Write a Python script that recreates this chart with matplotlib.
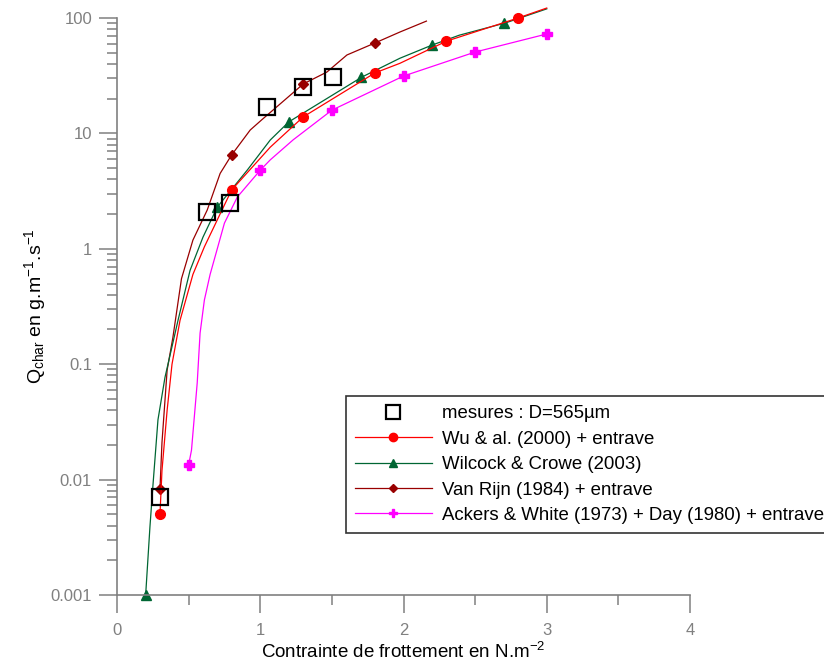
import matplotlib
matplotlib.use('Agg')
import matplotlib.pyplot as plt
from matplotlib.lines import Line2D
from matplotlib.ticker import FixedLocator, LogLocator, NullFormatter, MultipleLocator

plt.rcParams['font.family'] = ['Liberation Sans', 'DejaVu Sans']
plt.rcParams['mathtext.default'] = 'regular'

# measurements
mes_x = [0.30, 0.63, 0.79, 1.05, 1.30, 1.51]
mes_y = [0.007, 2.1, 2.5, 17, 25, 31]

# Wu & al. (2000) + entrave
wu_x = [0.30, 0.314, 0.35, 0.384, 0.44, 0.53, 0.61, 0.70, 0.80, 1.07, 1.30, 1.80, 1.975, 2.30, 2.80, 3.00]
wu_y = [0.005, 0.012, 0.040, 0.10, 0.24, 0.60, 1.04, 1.78, 3.23, 7.6, 13.9, 33.4, 40.5, 63, 100, 122]
wu_mx = [0.3, 0.8, 1.3, 1.8, 2.3, 2.8]
wu_my = [0.005, 3.23, 13.9, 33.4, 63, 100]

# Wilcock & Crowe (2003)
wc_x = [0.20, 0.23, 0.25, 0.286, 0.335, 0.426, 0.51, 0.60, 0.70, 0.91, 1.07, 1.20, 1.71, 1.975, 2.20, 2.39, 2.71, 3.00]
wc_y = [0.001, 0.0039, 0.0086, 0.033, 0.077, 0.24, 0.65, 1.26, 2.30, 4.82, 8.77, 12.6, 30.8, 44.8, 58.3, 71, 90.5, 120]
wc_mx = [0.2, 0.7, 1.2, 1.7, 2.2, 2.7]
wc_my = [0.001, 2.30, 12.6, 30.8, 58.3, 90.5]

# Van Rijn (1984) + entrave
vr_x = [0.30, 0.314, 0.35, 0.39, 0.45, 0.53, 0.63, 0.72, 0.80, 0.93, 1.01, 1.30, 1.465, 1.605, 1.80, 1.975, 2.16]
vr_y = [0.0083, 0.021, 0.089, 0.17, 0.55, 1.19, 2.17, 4.5, 6.5, 10.7, 13.1, 26.8, 34, 47.8, 60.7, 75.6, 94]
vr_mx = [0.3, 0.8, 1.3, 1.8]
vr_my = [0.0083, 6.5, 26.8, 60.7]

# Ackers & White (1973) + Day (1980) + entrave
aw_x = [0.50, 0.52, 0.56, 0.58, 0.61, 0.65, 0.70, 0.75, 0.84, 1.00, 1.07, 1.23, 1.50, 2.00, 2.50, 3.00]
aw_y = [0.0134, 0.018, 0.069, 0.186, 0.36, 0.6, 1.0, 1.67, 2.81, 4.8, 5.9, 8.8, 15.9, 31.4, 50.7, 72.7]
aw_mx = [0.5, 1.0, 1.5, 2.0, 2.5, 3.0]
aw_my = [0.0134, 4.8, 15.9, 31.4, 50.7, 72.7]

labels = ['mesures : D=565µm', 'Wu & al. (2000) + entrave', 'Wilcock & Crowe (2003)',
          'Van Rijn (1984) + entrave', 'Ackers & White (1973) + Day (1980) + entrave']

c_wu = '#ff0000'
c_wc = '#006633'
c_vr = '#990000'
c_aw = '#ff00ff'
grey = '#808080'

fig = plt.figure(figsize=(8.24, 6.65), dpi=100)
ax = fig.add_axes([117 / 824, 1 - 595 / 665, 573 / 824, 577 / 665])
ax.set_yscale('log')
ax.set_xlim(0, 4)
ax.set_ylim(0.001, 100)

ax.plot(vr_x, vr_y, color=c_vr, lw=0.9, clip_on=False)
ax.plot(vr_mx, vr_my, 'D', color=c_vr, ms=5, clip_on=False)
ax.plot(wc_x, wc_y, color=c_wc, lw=0.9, clip_on=False)
ax.plot(wc_mx, wc_my, '^', color=c_wc, ms=7, clip_on=False)
ax.plot(wu_x, wu_y, color=c_wu, lw=0.9, clip_on=False)
ax.plot(wu_mx, wu_my, 'o', color=c_wu, ms=7, clip_on=False)
ax.plot(aw_x, aw_y, color=c_aw, lw=0.9, clip_on=False)
ax.plot(aw_mx, aw_my, 'P', color=c_aw, ms=7, clip_on=False)
ax.plot(mes_x, mes_y, 's', mfc='none', mec='black', mew=1.6, ms=11, clip_on=False, zorder=5)

for side in ['top', 'right']:
    ax.spines[side].set_visible(False)
for side in ['left', 'bottom']:
    ax.spines[side].set_color(grey)
    ax.spines[side].set_linewidth(1.2)

yt = [0.001, 0.01, 0.1, 1, 10, 100]
ax.yaxis.set_major_locator(FixedLocator(yt))
ax.set_yticklabels(['0.001', '0.01', '0.1', '1', '10', '100'])
ax.yaxis.set_minor_locator(LogLocator(base=10, subs=range(2, 10)))
ax.yaxis.set_minor_formatter(NullFormatter())
ax.xaxis.set_major_locator(FixedLocator([0, 1, 2, 3, 4]))
ax.xaxis.set_minor_locator(MultipleLocator(0.5))

ax.tick_params(which='major', length=13, width=1.1, color=grey, labelcolor=grey, labelsize=12)
ax.tick_params(which='minor', length=7, width=1.1, color=grey)
ax.tick_params(axis='x', which='major', pad=7)
ax.tick_params(axis='y', which='major', pad=5)

ax.set_xlabel('Contrainte de frottement en N.m$^{-2}$', fontsize=13.5, labelpad=3)
ax.set_ylabel('Q$_{char}$ en g.m$^{-1}$.s$^{-1}$', fontsize=14, labelpad=2)

handles = [
    Line2D([], [], ls='none', marker='s', mfc='none', mec='black', mew=1.6, ms=10),
    Line2D([], [], color=c_wu, lw=0.9, marker='o', ms=6),
    Line2D([], [], color=c_wc, lw=0.9, marker='^', ms=6),
    Line2D([], [], color=c_vr, lw=0.9, marker='D', ms=4),
    Line2D([], [], color=c_aw, lw=0.9, marker='P', ms=6),
]
leg = fig.legend(handles, labels, loc='upper left', bbox_to_anchor=(346 / 824, 1 - 396 / 665),
                 fontsize=13.4, frameon=True, fancybox=False, framealpha=1, edgecolor='#333333',
                 handlelength=4.1, handletextpad=0.55, labelspacing=0.45, borderpad=0.5,
                 borderaxespad=0)
leg.get_frame().set_linewidth(1.2)

fig.savefig('out.png', dpi=100)
